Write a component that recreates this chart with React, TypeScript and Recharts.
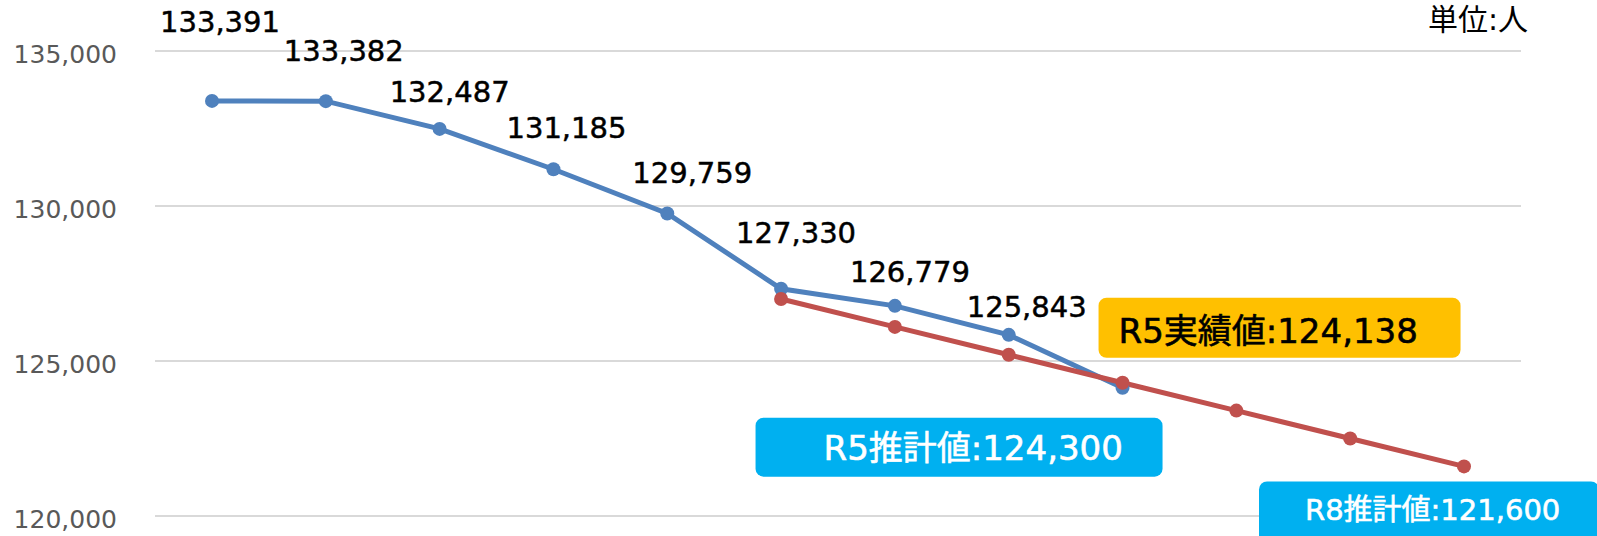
import { CartesianGrid, LabelList, Line, LineChart, XAxis, YAxis } from "recharts";

const years = ["H27", "H28", "H29", "H30", "R1", "R2", "R3", "R4", "R5", "R6", "R7", "R8"];
const actual = [133391, 133382, 132487, 131185, 129759, 127330, 126779, 125843, 124138, null, null, null];
const estimate = [null, null, null, null, null, 127000, 126100, 125200, 124300, 123400, 122500, 121600];
const yTicks = [120000, 125000, 130000, 135000];

// hand-placed label offsets from each blue point (dx, baseline dy), like the Excel original
const LABEL_OFFSETS: [number, number][] = [
  [8, -69],
  [18, -40],
  [10, -27],
  [13, -31],
  [25, -30],
  [15, -46],
  [15, -24],
  [18, -18],
];

const FONT = "'DejaVu Sans', 'Noto Sans CJK JP', sans-serif";
const BLUE = "#4F81BD";
const RED = "#C0504D";
const YELLOW = "#FFC000";
const CYAN = "#00B0F0";

const data = years.map((year, i) => ({ year, actual: actual[i], estimate: estimate[i] }));

const fmt = (v: number) => v.toLocaleString("en-US");

interface Callout {
  index: number;
  title: string;
  fill: string;
  color: string;
  box: [number, number, number, number]; // dx, dy, width, height
  text: [number, number]; // dx, dy baseline
  fontSize: number;
}

const ACTUAL_CALLOUTS: Callout[] = [
  { index: 8, title: "R5実績値", fill: YELLOW, color: "#000000", box: [-24, -90, 362, 60], text: [-4, -45], fontSize: 34 },
];

const ESTIMATE_CALLOUTS: Callout[] = [
  { index: 8, title: "R5推計値", fill: CYAN, color: "#FFFFFF", box: [-367, 35, 407, 59], text: [-299, 77], fontSize: 34 },
  { index: 11, title: "R8推計値", fill: CYAN, color: "#FFFFFF", box: [-205, 15, 340, 70], text: [-159, 54], fontSize: 29 },
];

function renderCallout(c: Callout, x: number, y: number, value: number) {
  return (
    <g key={`callout-${c.title}`}>
      <rect x={x + c.box[0]} y={y + c.box[1]} width={c.box[2]} height={c.box[3]} rx={8} ry={8} fill={c.fill} />
      <text
        x={x + c.text[0]}
        y={y + c.text[1]}
        fill={c.color}
        stroke={c.color}
        strokeWidth={0.6}
        fontSize={c.fontSize}
        fontFamily={FONT}
      >
        {`${c.title}:${fmt(value)}`}
      </text>
    </g>
  );
}

function ActualLabel(props: any) {
  const { x, y, value, index } = props;
  if (value == null || x == null || y == null) return null;
  const callout = ACTUAL_CALLOUTS.find((c) => c.index === index);
  if (callout) return renderCallout(callout, x, y, value);
  const off = LABEL_OFFSETS[index];
  if (!off) return null;
  return (
    <text
      x={x + off[0]}
      y={y + off[1]}
      textAnchor="middle"
      fill="#000000"
      stroke="#000000"
      strokeWidth={0.5}
      fontSize={29}
      fontFamily={FONT}
    >
      {fmt(value)}
    </text>
  );
}

function EstimateLabel(props: any) {
  const { x, y, value, index } = props;
  if (value == null || x == null || y == null) return null;
  const callout = ESTIMATE_CALLOUTS.find((c) => c.index === index);
  if (!callout) return null;
  return renderCallout(callout, x, y, value);
}

function YTick(props: any) {
  const { x, y, payload } = props;
  return (
    <text x={x} y={y + 12} textAnchor="end" fill="#595959" fontSize={25} fontFamily={FONT}>
      {fmt(payload.value)}
    </text>
  );
}

export default function App() {
  return (
    <div style={{ position: "absolute", left: 0, top: 0, width: 1597, height: 536, background: "#FFFFFF" }}>
      <LineChart width={1597} height={536} data={data} margin={{ top: 51, right: 76, bottom: 20, left: 0 }}>
        <CartesianGrid vertical={false} stroke="#D9D9D9" strokeWidth={2} />
        <XAxis dataKey="year" hide padding={{ left: 57, right: 57 }} />
        <YAxis
          domain={[120000, 135000]}
          ticks={yTicks}
          width={155}
          axisLine={false}
          tickLine={false}
          tickSize={0}
          tickMargin={38}
          tick={<YTick />}
          allowDataOverflow
        />
        <Line
          dataKey="actual"
          stroke={BLUE}
          strokeWidth={5}
          dot={{ r: 7, fill: BLUE, stroke: BLUE, strokeWidth: 0 }}
          activeDot={false}
          isAnimationActive={false}
        >
          <LabelList dataKey="actual" content={<ActualLabel />} />
        </Line>
        <Line
          dataKey="estimate"
          stroke={RED}
          strokeWidth={5}
          dot={{ r: 7, fill: RED, stroke: RED, strokeWidth: 0 }}
          activeDot={false}
          isAnimationActive={false}
        >
          <LabelList dataKey="estimate" content={<EstimateLabel />} />
        </Line>
      </LineChart>
      <div
        style={{
          position: "absolute",
          right: 69,
          top: 0,
          fontSize: 30,
          lineHeight: "40px",
          fontFamily: FONT,
          color: "#000000",
        }}
      >
        単位:人
      </div>
    </div>
  );
}
